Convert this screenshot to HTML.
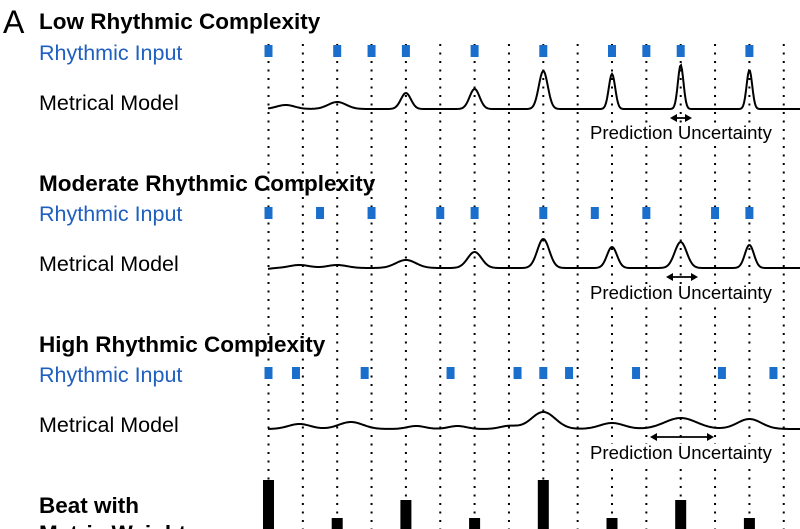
<!DOCTYPE html>
<html><head><meta charset="utf-8"><style>
html,body{margin:0;padding:0;background:#fff;width:800px;height:529px;overflow:hidden}
svg{display:block}
text{font-family:"Liberation Sans",Arial,sans-serif}
</style></head><body>
<svg id="s" width="800" height="529" viewBox="0 0 800 529" xmlns="http://www.w3.org/2000/svg">
<text x="3" y="33" font-size="32" fill="#000">A</text>
<text x="39" y="29" font-size="22.5" font-weight="bold">Low Rhythmic Complexity</text>
<text x="39" y="60" font-size="21.5" fill="#1f5fbf">Rhythmic Input</text>
<text x="39" y="110" font-size="21.5">Metrical Model</text>
<text x="39" y="191" font-size="22.5" font-weight="bold">Moderate Rhythmic Complexity</text>
<text x="39" y="221" font-size="21.5" fill="#1f5fbf">Rhythmic Input</text>
<text x="39" y="271" font-size="21.5">Metrical Model</text>
<text x="39" y="352" font-size="22.5" font-weight="bold">High Rhythmic Complexity</text>
<text x="39" y="382" font-size="21.5" fill="#1f5fbf">Rhythmic Input</text>
<text x="39" y="432" font-size="21.5">Metrical Model</text>
<text x="39" y="513" font-size="22.5" font-weight="bold">Beat with</text>
<text x="39" y="541" font-size="22.5" font-weight="bold">Metric Weight</text>
<g id="g"></g>
<rect x="588" y="124" width="186" height="19" fill="#fff"/>
<rect x="588" y="284" width="186" height="19" fill="#fff"/>
<rect x="588" y="444" width="186" height="19" fill="#fff"/>
<text x="590" y="139" font-size="18.6">Prediction Uncertainty</text>
<text x="590" y="299" font-size="18.6">Prediction Uncertainty</text>
<text x="590" y="459" font-size="18.6">Prediction Uncertainty</text>
</svg>
<script>
var g=document.getElementById('g'),h='';
function X(i){return 268.5+34.35*i;}
for(var i=0;i<16;i++){h+='<line x1="'+X(i)+'" y1="44" x2="'+X(i)+'" y2="529" stroke="#000" stroke-width="2" stroke-dasharray="2 6.5"/>';}
function sq(list,y){list.forEach(function(i){h+='<rect x="'+(X(i)-4)+'" y="'+(y-6)+'" width="8" height="12" fill="#1a6fcc"/>';});}
sq([0,2,3,4,6,8,10,11,12,14],51);
sq([0,1.5,3,5,6,8,9.5,11,13,14],213);
sq([0,0.8,2.8,5.3,7.25,8,8.75,10.7,13.2,14.7],373);
function curve(base,pk){var d='';for(var x=268;x<=800;x+=1){var y=base;pk.forEach(function(p){var c=X(p[0]);y-=p[1]*Math.exp(-Math.pow(x-c,2)/(2*p[2]*p[2]));});d+=(x==268?'M':'L')+x+','+y.toFixed(2);}h+='<path d="'+d+'" fill="none" stroke="#000" stroke-width="2"/>';}
curve(109,[[0.5,4,9],[2,7,9],[4,16,5],[6,20,5],[8,38,4.5],[10,35,3.2],[12,44,2.8],[14,39,2.8]]);
curve(268,[[0.9,3,10],[2,3,10],[4,8,10],[6,16,7],[8,29,6],[10,21,5],[12,26,6],[14,23,4.5],[-0.3,-2,8]]);
curve(429,[[0.9,5,11],[2.4,7,12],[4.3,3,9],[5.5,3,9],[7,3,9],[8,17,12],[10,6,12],[12,11,16],[14,10,12]]);
function arr(x1,x2,y){h+='<line x1="'+(x1+5)+'" y1="'+y+'" x2="'+(x2-5)+'" y2="'+y+'" stroke="#000" stroke-width="1.8"/>';h+='<path d="M'+x1+','+y+' l7,-4 v8z M'+x2+','+y+' l-7,-4 v8z"/>';}
arr(670,692,118);arr(666,698,277);arr(650,714,437);
[[0,480],[2,518],[4,500],[6,518],[8,480],[10,518],[12,500],[14,518]].forEach(function(b){h+='<rect x="'+(X(b[0])-5.5)+'" y="'+b[1]+'" width="11" height="'+(529-b[1])+'" fill="#000"/>';});
g.innerHTML=h;
</script>
</body></html>
